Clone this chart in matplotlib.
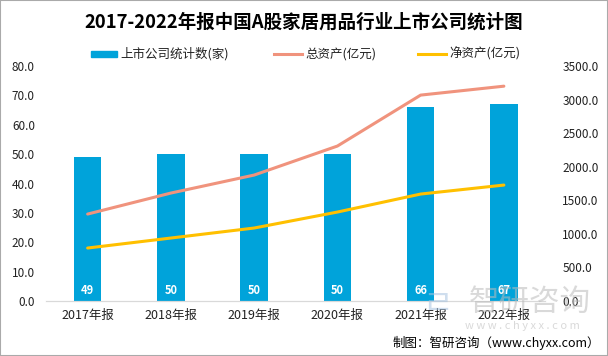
import numpy as np
import matplotlib.pyplot as plt
from matplotlib.patches import Rectangle
from matplotlib.lines import Line2D

plt.rcParams['font.family'] = ['Noto Sans CJK SC', 'DejaVu Sans']
plt.rcParams['axes.unicode_minus'] = False

years = ['2017年报', '2018年报', '2019年报', '2020年报', '2021年报', '2022年报']
companies = [49, 50, 50, 50, 66, 67]
total_assets = [1295, 1608, 1876, 2308, 3067, 3200]
net_assets = [789, 938, 1087, 1325, 1593, 1727]

bar_color = '#00A3DA'
total_color = '#F0937D'
net_color = '#FFC000'
txt = '#222222'

fig = plt.figure(figsize=(6.08, 3.56), dpi=100)
ax = fig.add_axes([0.0757, 0.1545, 0.8215, 0.660])
ax2 = ax.twinx()

x = np.arange(len(years))
ax.bar(x, companies, width=0.33, color=bar_color, zorder=2)
for xi, v in zip(x, companies):
    ax.text(xi, 1.5, str(v), ha='center', va='bottom', color='white', fontsize=8,
            fontweight='bold', zorder=3)

ax2.plot(x, total_assets, color=total_color, lw=2.2, solid_capstyle='round')
ax2.plot(x, net_assets, color=net_color, lw=2.2, solid_capstyle='round')

ax.set_xlim(-0.5, len(years) - 0.5)
ax.set_ylim(0, 80)
ax2.set_ylim(0, 3500)
ax.set_yticks(np.arange(0, 81, 10))
ax.set_yticklabels([f'{v:.1f}' for v in np.arange(0, 81, 10)])
ax2.set_yticks(np.arange(0, 3501, 500))
ax2.set_yticklabels([f'{v:.1f}' for v in np.arange(0, 3501, 500)])
ax.set_xticks(x)
ax.set_xticklabels(years)

for a in (ax, ax2):
    for s in ('top', 'left', 'right'):
        a.spines[s].set_visible(False)
    a.spines['bottom'].set_color('#D9D9D9')
    a.tick_params(length=0, labelsize=8.5, colors=txt)
ax.tick_params(axis='y', pad=8)
ax2.tick_params(axis='y', pad=12)
ax.tick_params(axis='x', pad=6, labelsize=9)

fig.text(0.5, 1 - 22 / 356, '2017-2022年报中国A股家居用品行业上市公司统计图', ha='center', va='center',
         fontsize=13.3, fontweight='bold', color='black')

# 图例
ly = 1 - 54 / 356
fig.patches.append(Rectangle((91 / 608, ly - 3 / 356), 26 / 608, 6 / 356, transform=fig.transFigure,
                             color=bar_color))
fig.text(120 / 608, ly, '上市公司统计数(家)', va='center', fontsize=9, color=txt)
fig.lines.append(Line2D([274 / 608, 302 / 608], [ly] * 2, transform=fig.transFigure,
                        color=total_color, lw=2.2))
fig.text(305 / 608, ly, '总资产(亿元)', va='center', fontsize=9, color=txt)
fig.lines.append(Line2D([418 / 608, 446 / 608], [ly] * 2, transform=fig.transFigure,
                        color=net_color, lw=2.2))
fig.text(449 / 608, ly, '净资产(亿元)', va='center', fontsize=9, color=txt)

# 水印
fig.text(530 / 608, 1 - 302 / 356, '智研咨询', ha='center', va='center', fontsize=22,
         color='#BBBBBB', alpha=0.55)
fig.text(522 / 608, 1 - 326 / 356, 'w w w . c h y x x . c o m', ha='center', va='center',
         fontsize=8, color='#BBBBBB', alpha=0.55)
fig.text(437 / 608, 1 - 305 / 356, 'ㄹ', ha='center', va='center', fontsize=24,
         color='#A9C4E0', alpha=0.55)

fig.text(600 / 608, 1 - 343 / 356, '制图：智研咨询（www.chyxx.com）', ha='right', va='center',
         fontsize=9, color='black')

fig.patches.append(Rectangle((0, 0), 1, 1, transform=fig.transFigure, fill=False,
                             edgecolor='#AAAAAA', lw=1.5))

fig.savefig('out.png', dpi=100)
